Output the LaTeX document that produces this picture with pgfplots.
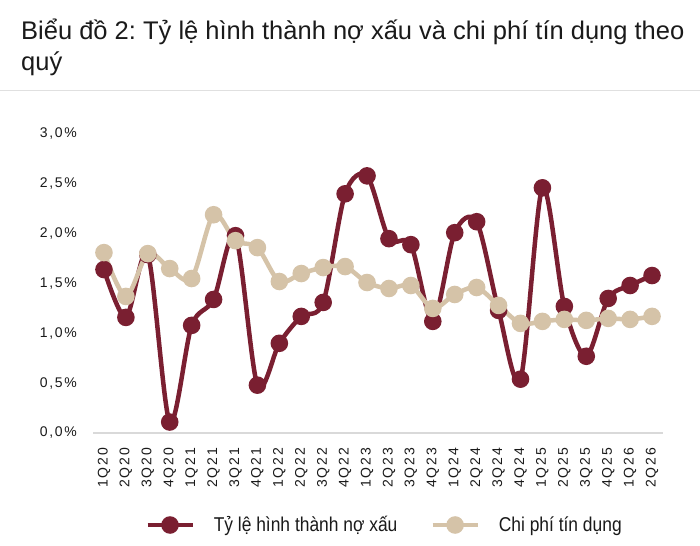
\documentclass[border=0pt]{standalone}
\usepackage{fontspec}
\setmainfont{Liberation Sans}
\newfontfamily\legfont[FakeStretch=0.87]{Liberation Sans}
\newfontfamily\tickfont[LetterSpace=12]{Liberation Sans}
\usepackage{pgfplots}
\pgfplotsset{compat=1.18}
\definecolor{nx}{HTML}{7A1F31}
\definecolor{cp}{HTML}{D5C3A8}
\definecolor{txt}{HTML}{1A1A1A}
\frenchspacing
\begin{document}
\begin{tikzpicture}
\path[use as bounding box] (0bp,0bp) rectangle (700bp,-546bp);
\fill[white] (0bp,0bp) rectangle (700bp,-546bp);
\node[anchor=base west, inner sep=0pt, text=txt, font=\fontsize{25.5bp}{30bp}\selectfont] at (21bp,-39.5bp) {Biểu đồ 2: Tỷ lệ hình thành nợ xấu và chi phí tín dụng theo};
\node[anchor=base west, inner sep=0pt, text=txt, font=\fontsize{25.5bp}{30bp}\selectfont] at (21bp,-70bp) {quý};
\draw[line width=1bp, color=black!12] (0bp,-90bp) -- (700bp,-90bp);
\begin{axis}[
  at={(93bp,-433bp)}, anchor=south west,
  scale only axis, width=570bp, height=299bp,
  xmin=-0.5, xmax=25.5, ymin=0, ymax=3,
  clip=false,
  axis x line*=bottom, axis y line*=left,
  x axis line style={draw=black!15, line width=1.5bp, -},
  y axis line style={draw=none},
  major tick length=0pt,
  xtick={0,...,25},
  xticklabels={1Q20,2Q20,3Q20,4Q20,1Q21,2Q21,3Q21,4Q21,1Q22,2Q22,3Q22,4Q22,1Q23,2Q23,3Q23,4Q23,1Q24,2Q24,3Q24,4Q24,1Q25,2Q25,3Q25,4Q25,1Q26,2Q26},
  ytick={0,0.5,1,1.5,2,2.5,3},
  yticklabels={{0,0\%},{0,5\%},{1,0\%},{1,5\%},{2,0\%},{2,5\%},{3,0\%}},
  xticklabel style={font=\tickfont\fontsize{14bp}{16bp}\selectfont, text=txt, rotate=90, anchor=east, inner sep=0pt},
  yticklabel style={font=\tickfont\fontsize{14bp}{16bp}\selectfont, text=txt, anchor=east, inner sep=0pt},
  xticklabel shift=15bp,
  yticklabel shift=16bp,
  legend columns=-1,
  legend image code/.code={\draw[mark repeat=2,mark phase=2,#1] plot coordinates {(0bp,0bp) (22.5bp,0bp) (45bp,0bp)};},
  legend style={at={(0.5114,-0.3077)}, anchor=center, draw=none, fill=none, inner sep=0pt,
    font=\legfont\fontsize{20bp}{22bp}\selectfont, text=txt,
    /tikz/every odd column/.append style={column sep=17bp},
    /tikz/every even column/.append style={column sep=31bp}},
]
\addplot[color=nx, line width=4.5bp, smooth, mark=*, mark size=6.5bp, mark options={draw=none, fill=nx}] coordinates {
(0,1.64) (1,1.16) (2,1.79) (3,0.11) (4,1.08) (5,1.34) (6,1.98) (7,0.48) (8,0.90) (9,1.17) (10,1.31) (11,2.40) (12,2.58) (13,1.95) (14,1.89) (15,1.12) (16,2.01) (17,2.12) (18,1.23) (19,0.54) (20,2.46) (21,1.27) (22,0.77) (23,1.35) (24,1.48) (25,1.58)};
\addlegendentry{Tỷ lệ hình thành nợ xấu}
\addplot[color=cp, line width=4.5bp, smooth, mark=*, mark size=6.5bp, mark options={draw=none, fill=cp}] coordinates {
(0,1.81) (1,1.37) (2,1.80) (3,1.65) (4,1.55) (5,2.19) (6,1.93) (7,1.86) (8,1.52) (9,1.60) (10,1.66) (11,1.67) (12,1.51) (13,1.45) (14,1.48) (15,1.25) (16,1.39) (17,1.46) (18,1.28) (19,1.10) (20,1.12) (21,1.14) (22,1.13) (23,1.15) (24,1.14) (25,1.17)};
\addlegendentry{Chi phí tín dụng}
\end{axis}
\end{tikzpicture}
\end{document}
